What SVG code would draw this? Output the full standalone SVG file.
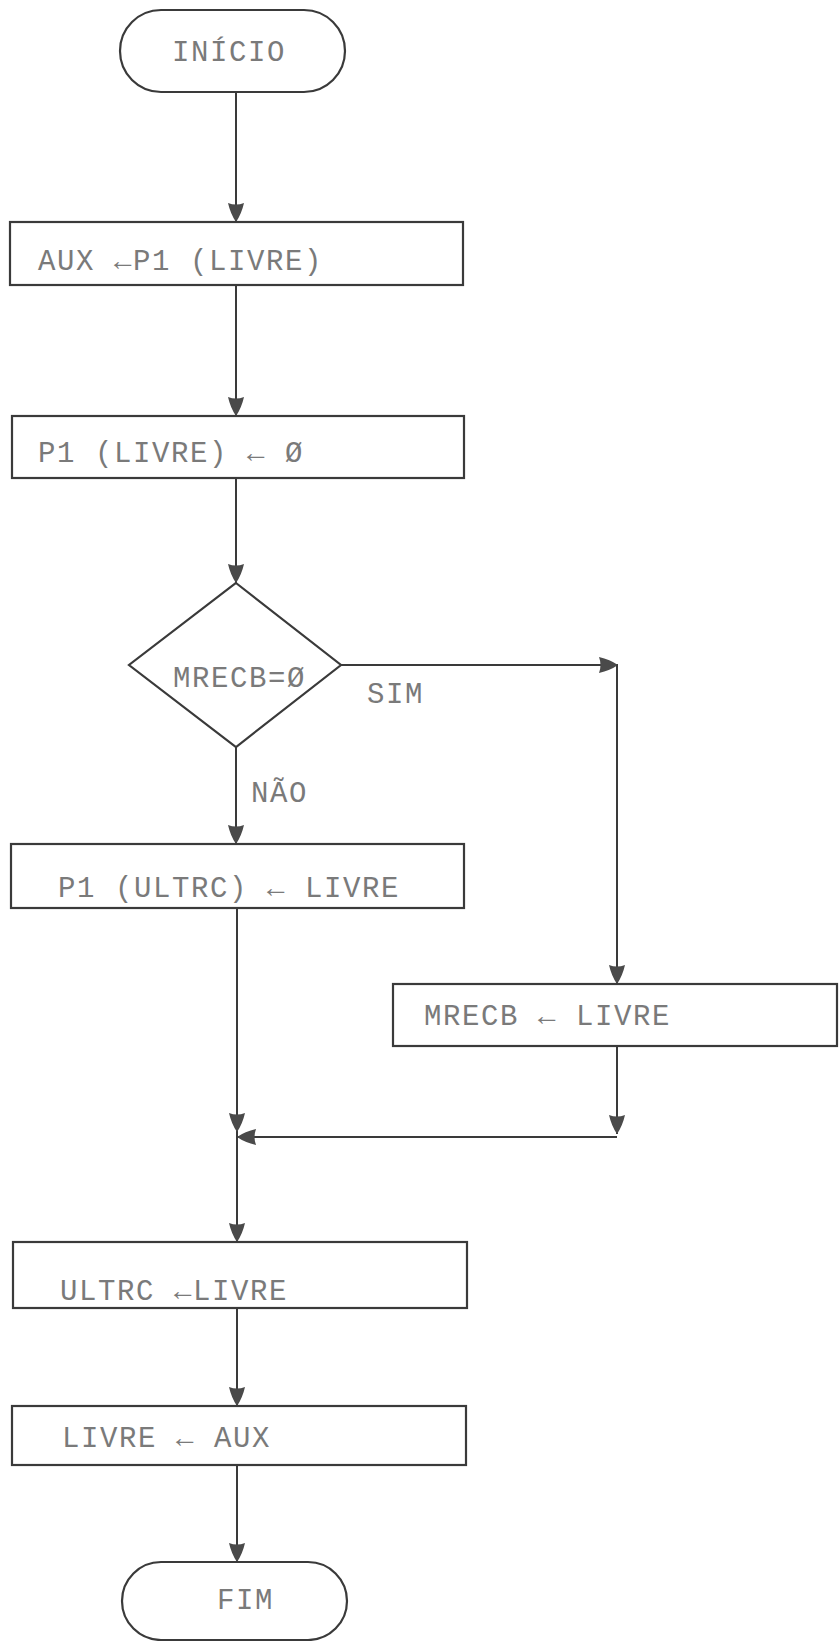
<svg xmlns="http://www.w3.org/2000/svg" width="839" height="1641" viewBox="0 0 839 1641">
<style>
.shape{fill:none;stroke:#3a3a3a;stroke-width:2.2}
.conn{fill:none;stroke:#3a3a3a;stroke-width:2}
.t{font-family:"Liberation Mono","DejaVu Sans Mono",monospace;font-size:29px;letter-spacing:1.6px;fill:#7a7a7a}
</style>
<defs>
<marker id="ah" markerUnits="userSpaceOnUse" markerWidth="19" markerHeight="17" viewBox="0 0 19 17" refX="19" refY="8.5" orient="auto">
<path d="M0,0.5 Q11,3 19,8.5 Q11,14 0,16.5 Q3,8.5 0,0.5 Z" fill="#4a4a4a"/>
</marker>
</defs>
<rect width="839" height="1641" fill="#ffffff"/>
<g id="connectors">
<path class="conn" d="M236,92 V222" marker-end="url(#ah)"/>
<path class="conn" d="M236,285 V416" marker-end="url(#ah)"/>
<path class="conn" d="M236,478 V583" marker-end="url(#ah)"/>
<path class="conn" d="M236,747 V844" marker-end="url(#ah)"/>
<path class="conn" d="M341,665 H618" marker-end="url(#ah)"/>
<path class="conn" d="M617,665 V984" marker-end="url(#ah)"/>
<path class="conn" d="M617,1046 V1134" marker-end="url(#ah)"/>
<path class="conn" d="M617,1137 H237" marker-end="url(#ah)"/>
<path class="conn" d="M237,908 V1132" marker-end="url(#ah)"/>
<path class="conn" d="M237,1132 V1242" marker-end="url(#ah)"/>
<path class="conn" d="M237,1308 V1406" marker-end="url(#ah)"/>
<path class="conn" d="M237,1465 V1562" marker-end="url(#ah)"/>
</g>
<g id="inicio">
<rect class="shape" x="120" y="10" width="225" height="82" rx="41" ry="41"/>
<text class="t" x="172" y="61">INÍCIO</text>
</g>
<g id="box1">
<rect class="shape" x="10" y="222" width="453" height="63"/>
<text class="t" x="38" y="270">AUX ←P1 (LIVRE)</text>
</g>
<g id="box2">
<rect class="shape" x="12" y="416" width="452" height="62"/>
<text class="t" x="38" y="462">P1 (LIVRE) ← Ø</text>
</g>
<g id="decision">
<polygon class="shape" points="236,583 341,665 236,747 129,665"/>
<text class="t" x="173" y="687">MRECB=Ø</text>
</g>
<g id="label-sim">
<text class="t" x="367" y="703">SIM</text>
</g>
<g id="label-nao">
<text class="t" x="251" y="802">NÃO</text>
</g>
<g id="box3">
<rect class="shape" x="11" y="844" width="453" height="64"/>
<text class="t" x="58" y="897">P1 (ULTRC) ← LIVRE</text>
</g>
<g id="box4">
<rect class="shape" x="393" y="984" width="444" height="62"/>
<text class="t" x="424" y="1025">MRECB ← LIVRE</text>
</g>
<g id="box5">
<rect class="shape" x="13" y="1242" width="454" height="66"/>
<text class="t" x="60" y="1300">ULTRC ←LIVRE</text>
</g>
<g id="box6">
<rect class="shape" x="12" y="1406" width="454" height="59"/>
<text class="t" x="62" y="1447">LIVRE ← AUX</text>
</g>
<g id="fim">
<rect class="shape" x="122" y="1562" width="225" height="78" rx="39" ry="39"/>
<text class="t" x="217" y="1609">FIM</text>
</g>
</svg>
